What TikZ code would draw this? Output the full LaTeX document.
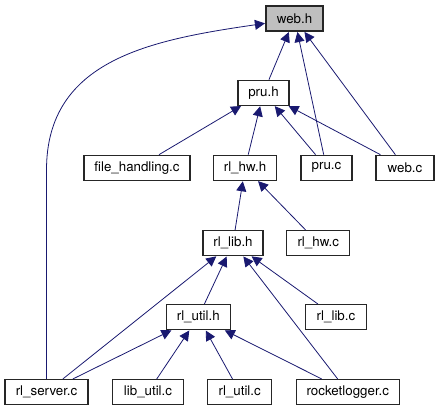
\documentclass[tikz,border=0pt]{standalone}
\usepackage{fontspec}
\setmainfont{TeX Gyre Heros}
\usepackage{tikz}
\usetikzlibrary{arrows.meta}
\definecolor{depblue}{HTML}{191970}
\definecolor{focusgray}{HTML}{BFBFBF}

\begin{document}
\begin{tikzpicture}[
    x=0.75pt, y=-0.75pt,
    file style/.style={rectangle, draw=black!85, line width=0.8pt, fill=white, minimum width=#1, minimum height=18.75pt, inner sep=1pt, font=\fontsize{10}{12}\selectfont},
    focus style/.style={file style=#1, fill=focusgray},
    dep edge/.style={draw=depblue, line width=0.6pt, -{Triangle[length=7.5pt,width=7.5pt]}, shorten >=0.4pt}
]
\useasboundingbox (0,0) rectangle (439,411);

% headers and sources
\node[focus style=42.75pt] (webh) at (294.5,18.5) {web.h};
\node[file style=38.25pt] (pruh) at (263.5,92.7) {pru.h};
\node[file style=79.5pt] (filehc) at (137,167.7) {file\_handling.c};
\node[file style=47.25pt] (rlhwh) at (245,167.7) {rl\_hw.h};
\node[file style=38.25pt] (pruc) at (326.5,167.7) {pru.c};
\node[file style=43.5pt] (webc) at (405,167.7) {web.c};
\node[file style=45pt] (rllibh) at (233,243) {rl\_lib.h};
\node[file style=47.25pt] (rlhwc) at (318.3,243) {rl\_hw.c};
\node[file style=48pt] (rlutilh) at (198.3,317) {rl\_util.h};
\node[file style=45.75pt] (rllibc) at (336,317) {rl\_lib.c};
\node[file style=62.25pt] (rlserverc) at (46.5,392) {rl\_server.c};
\node[file style=53.25pt] (libutilc) at (148,392) {lib\_util.c};
\node[file style=48pt] (rlutilc) at (239.7,392) {rl\_util.c};
\node[file style=77.25pt] (rocketc) at (347.7,392) {rocketlogger.c};

% include edges
\draw[dep edge] (pruh) -- (webh);
\draw[dep edge] (pruc) -- (webh);
\draw[dep edge] (webc) -- (webh);
\draw[dep edge] (rlserverc.north) -- (46.5,170) .. controls (46.5,60) and (150,40) .. ([yshift=-3.6pt]webh.west);
\draw[dep edge] (filehc) -- (pruh);
\draw[dep edge] (rlhwh) -- (pruh);
\draw[dep edge] (pruc) -- (pruh);
\draw[dep edge] (webc) -- (pruh);
\draw[dep edge] (rllibh) -- (rlhwh);
\draw[dep edge] (rlhwc) -- (rlhwh);
\draw[dep edge] (rlutilh) -- (rllibh);
\draw[dep edge] (rllibc) -- (rllibh);
\draw[dep edge] (rocketc) -- (rllibh);
\draw[dep edge] (rlserverc) -- (rllibh);
\draw[dep edge] (rlserverc) -- (rlutilh);
\draw[dep edge] (libutilc) -- (rlutilh);
\draw[dep edge] (rlutilc) -- (rlutilh);
\draw[dep edge] (rocketc) -- (rlutilh);
\end{tikzpicture}
\end{document}
